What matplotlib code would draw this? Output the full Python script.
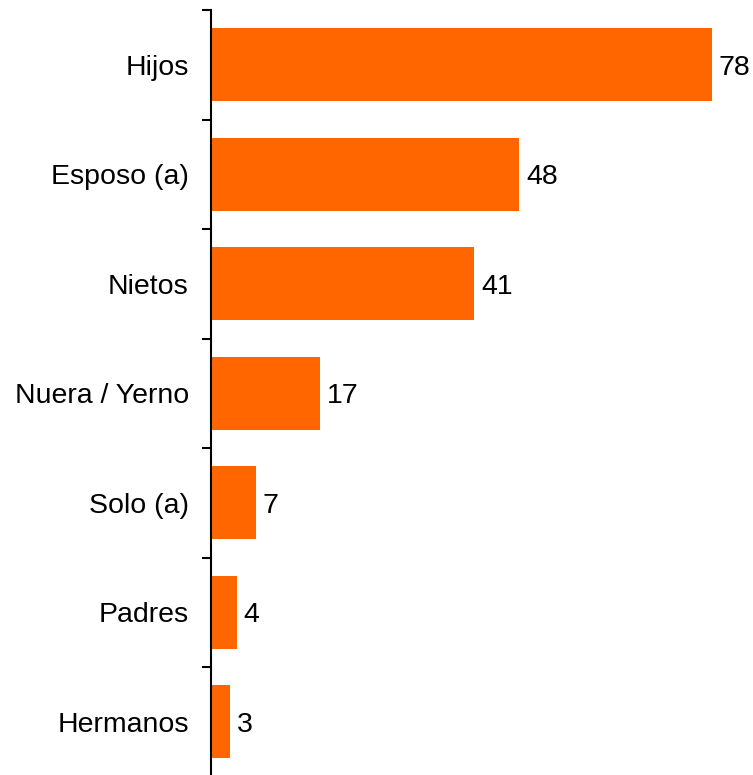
import numpy as np
import matplotlib.pyplot as plt

plt.rcParams['font.family'] = ['Liberation Sans', 'DejaVu Sans']

categories = ['Hijos', 'Esposo (a)', 'Nietos', 'Nuera / Yerno', 'Solo (a)', 'Padres', 'Hermanos']
values = [78, 48, 41, 17, 7, 4, 3]

bar_color = '#FF6600'

fig = plt.figure(figsize=(7.53, 7.75), dpi=100)
ax = fig.add_axes([211 / 753, -1.5 / 775, 542 / 753, 766.5 / 775])

pos = np.arange(len(categories))
ax.barh(pos, values, height=0.667, color=bar_color)

for p, v in zip(pos, values):
    ax.annotate(str(v), (v, p), xytext=(5, 0), textcoords='offset points',
                va='center_baseline', ha='left', fontsize=20.5)

ax.set_ylim(len(categories) - 0.5, -0.5)
ax.set_xlim(0, 84.4)

ax.set_yticks(pos)
ax.set_yticklabels(categories, fontsize=20.5)
ax.set_yticks(np.arange(-0.5, len(categories) + 0.5, 1), minor=True)
ax.tick_params(axis='y', which='major', length=0, pad=16)
ax.tick_params(axis='y', which='minor', length=6.5, width=1.5, direction='out')

ax.set_xticks([])
for s in ['top', 'right', 'bottom']:
    ax.spines[s].set_visible(False)
ax.spines['left'].set_linewidth(1.5)

fig.savefig('out.png', dpi=100)
